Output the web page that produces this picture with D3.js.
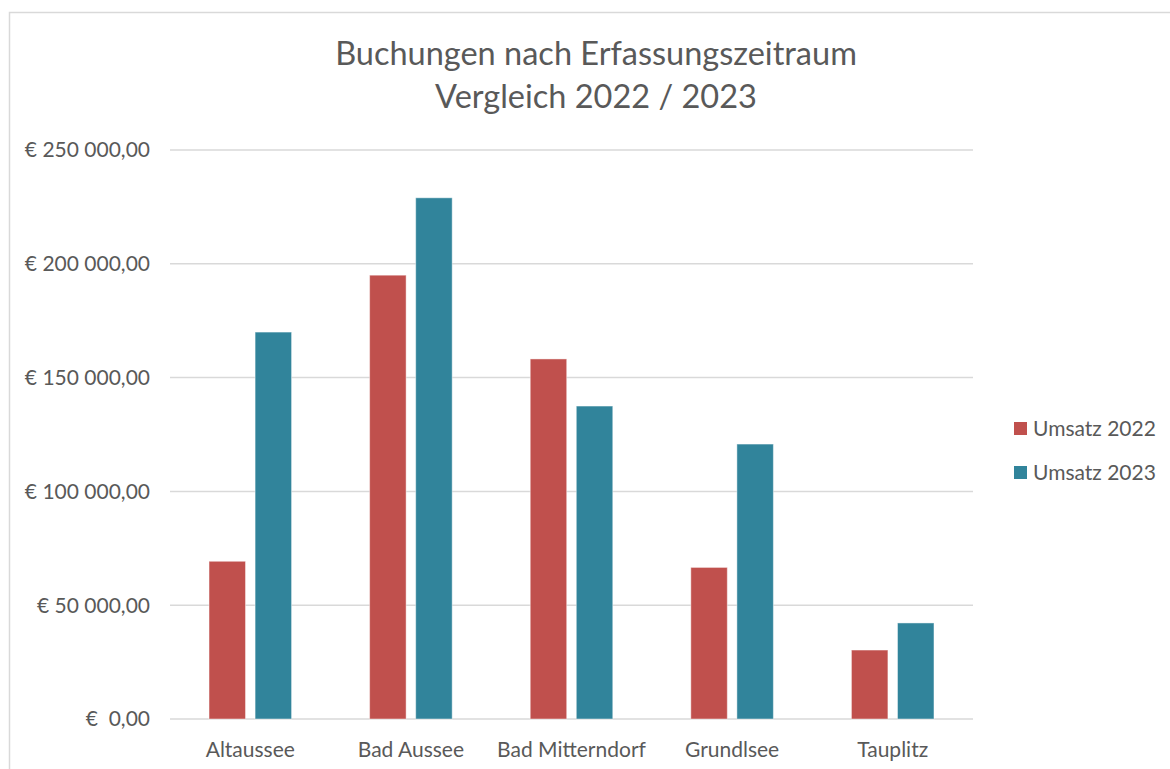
<!DOCTYPE html>
<html>
<head>
<meta charset="utf-8">
<script src="https://cdn.jsdelivr.net/npm/d3@7/dist/d3.min.js"></script>
<style>
  html, body { margin: 0; padding: 0; background: #fff; }
  svg { display: block; font-family: Lato, "Open Sans", sans-serif; }
  text { white-space: pre; }
</style>
</head>
<body>
<svg id="chart" width="1170" height="769"></svg>
<script>
// Booking revenue per location, 2022 vs 2023
const categories = ["Altaussee", "Bad Aussee", "Bad Mitterndorf", "Grundlsee", "Tauplitz"];
const seriesNames = ["Umsatz 2022", "Umsatz 2023"];
const umsatz2022 = [69300, 195000, 158200, 66600, 30300];
const umsatz2023 = [170000, 229000, 137500, 120800, 42200];
const yTicks = [0, 50000, 100000, 150000, 200000, 250000];
const yTickLabels = ["€  0,00", "€ 50 000,00", "€ 100 000,00", "€ 150 000,00", "€ 200 000,00", "€ 250 000,00"];
const titleLines = ["Buchungen nach Erfassungszeitraum", "Vergleich 2022 / 2023"];

const colors = ["#C0504D", "#31849B"];
const seriesValues = [umsatz2022, umsatz2023];

const svg = d3.select("#chart");

// chart frame
svg.append("rect")
  .attr("x", 9.5).attr("y", 12.5)
  .attr("width", 1300).attr("height", 900)
  .attr("fill", "#fff")
  .attr("stroke", "#d9d9d9").attr("stroke-width", 1.5);

const plot = { left: 170, right: 973, top: 150, bottom: 719 };

const x0 = d3.scaleBand()
  .domain(categories)
  .range([plot.left, plot.right])
  .paddingInner(0.486)
  .paddingOuter(0.243);

const x1 = d3.scaleBand()
  .domain(seriesNames)
  .range([0, x0.bandwidth()])
  .paddingInner(0.208);

const y = d3.scaleLinear()
  .domain([0, 250000])
  .range([plot.bottom, plot.top]);

// horizontal gridlines
svg.append("g")
  .selectAll("line")
  .data(yTicks)
  .join("line")
  .attr("x1", plot.left).attr("x2", plot.right)
  .attr("y1", d => y(d)).attr("y2", d => y(d))
  .attr("stroke", "#d9d9d9").attr("stroke-width", 1.5);

// y tick labels
svg.append("g")
  .selectAll("text")
  .data(yTicks)
  .join("text")
  .attr("x", plot.left - 20)
  .attr("y", d => y(d))
  .attr("dy", "0.35em")
  .attr("text-anchor", "end")
  .attr("fill", "#595959")
  .attr("font-size", 21)
  .text((d, i) => yTickLabels[i]);

// bars
const groups = svg.append("g")
  .selectAll("g")
  .data(categories)
  .join("g")
  .attr("transform", d => `translate(${x0(d)},0)`);

groups.selectAll("rect")
  .data((c, ci) => seriesNames.map((s, si) => ({ s, v: seriesValues[si][ci], si })))
  .join("rect")
  .attr("x", d => x1(d.s))
  .attr("width", x1.bandwidth())
  .attr("y", d => y(d.v))
  .attr("height", d => y(0) - y(d.v))
  .attr("fill", d => colors[d.si])
  .attr("stroke", "rgba(255,255,255,0.45)")
  .attr("stroke-width", 1);

// x category labels
svg.append("g")
  .selectAll("text")
  .data(categories)
  .join("text")
  .attr("x", d => x0(d) + x0.bandwidth() / 2)
  .attr("y", 757)
  .attr("text-anchor", "middle")
  .attr("fill", "#595959")
  .attr("font-size", 21)
  .text(d => d);

// title
svg.append("g")
  .selectAll("text")
  .data(titleLines)
  .join("text")
  .attr("x", 596)
  .attr("y", (d, i) => 65 + i * 43)
  .attr("text-anchor", "middle")
  .attr("fill", "#595959")
  .attr("font-size", 32.5)
  .text(d => d);

// legend
const legend = svg.append("g")
  .selectAll("g")
  .data(seriesNames)
  .join("g")
  .attr("transform", (d, i) => `translate(1014,${428.5 + i * 44})`);

legend.append("rect")
  .attr("x", 0).attr("y", -6.5)
  .attr("width", 13).attr("height", 13)
  .attr("fill", (d, i) => colors[i]);

legend.append("text")
  .attr("x", 19)
  .attr("dy", "0.35em")
  .attr("fill", "#595959")
  .attr("font-size", 21)
  .text(d => d);
</script>
</body>
</html>
